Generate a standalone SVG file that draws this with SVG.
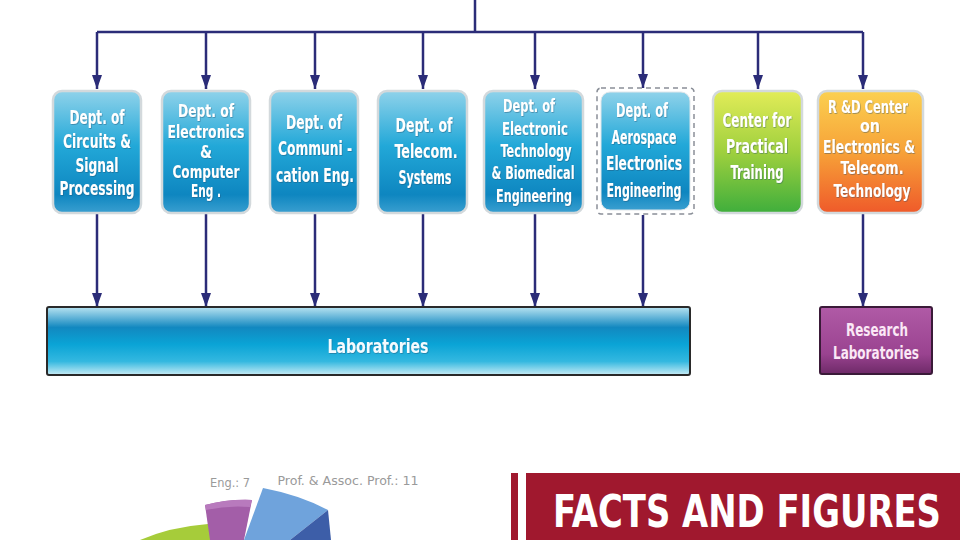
<svg xmlns="http://www.w3.org/2000/svg" width="960" height="540" viewBox="0 0 960 540">
<style>
.bt{font-family:"DejaVu Sans Condensed","Liberation Sans",sans-serif;font-weight:bold;font-size:19px;fill:#ffffff;text-anchor:middle}
.b5{font-size:18px}
.con{stroke:#2b2c78;stroke-width:2.5;fill:none}
.box{stroke:#d3d9dc;stroke-width:2.5}
.lbl{font-family:"DejaVu Sans Condensed","Liberation Sans",sans-serif;font-size:12px;fill:#9a9a9a;text-anchor:middle}
</style>
<defs>
<marker id="ah" viewBox="0 0 10 14" refX="5" refY="14" markerWidth="10" markerHeight="14" markerUnits="userSpaceOnUse" orient="0">
<path d="M0,0 L10,0 L5,14 Z" fill="#2b2c78"/>
</marker>
<linearGradient id="gBlue" x1="0" y1="0" x2="0" y2="1">
<stop offset="0" stop-color="#8fd2ea"/>
<stop offset="0.45" stop-color="#22a8d8"/>
<stop offset="0.85" stop-color="#0e86c0"/>
<stop offset="1" stop-color="#3a9fd0"/>
</linearGradient>
<linearGradient id="gGreen" x1="0" y1="0" x2="0" y2="1">
<stop offset="0" stop-color="#e2ec58"/>
<stop offset="0.5" stop-color="#9fd03e"/>
<stop offset="1" stop-color="#3fae3c"/>
</linearGradient>
<linearGradient id="gOrange" x1="0" y1="0" x2="0" y2="1">
<stop offset="0" stop-color="#fbd050"/>
<stop offset="0.5" stop-color="#f7a238"/>
<stop offset="1" stop-color="#ef5a2a"/>
</linearGradient>
<linearGradient id="gLab" x1="0" y1="0" x2="0" y2="1">
<stop offset="0" stop-color="#b8e3f1"/>
<stop offset="0.3" stop-color="#1288c0"/>
<stop offset="0.55" stop-color="#0aa4d6"/>
<stop offset="0.8" stop-color="#34b8e0"/>
<stop offset="1" stop-color="#c9ecf5"/>
</linearGradient>
<linearGradient id="gPurple" x1="0" y1="0" x2="0" y2="1">
<stop offset="0" stop-color="#b05aa6"/>
<stop offset="0.7" stop-color="#9a4390"/>
<stop offset="1" stop-color="#6e2a68"/>
</linearGradient>
<filter id="ts" x="-10%" y="-10%" width="120%" height="130%">
<feDropShadow dx="0.6" dy="0.8" stdDeviation="0.4" flood-color="#1a4a6a" flood-opacity="0.5"/>
</filter>
</defs>
<rect width="960" height="540" fill="#ffffff"/>

<g id="connectors">
<path class="con" d="M475,0 V32 M97,32 H863"/>
<path class="con" d="M97,32 V89" marker-end="url(#ah)"/>
<path class="con" d="M206,32 V89" marker-end="url(#ah)"/>
<path class="con" d="M315,32 V89" marker-end="url(#ah)"/>
<path class="con" d="M423,32 V89" marker-end="url(#ah)"/>
<path class="con" d="M535,32 V89" marker-end="url(#ah)"/>
<path class="con" d="M643,32 V88" marker-end="url(#ah)"/>
<path class="con" d="M758,32 V89" marker-end="url(#ah)"/>
<path class="con" d="M863,32 V89" marker-end="url(#ah)"/>
<path class="con" d="M97,214 V307" marker-end="url(#ah)"/>
<path class="con" d="M206,214 V307" marker-end="url(#ah)"/>
<path class="con" d="M315,214 V307" marker-end="url(#ah)"/>
<path class="con" d="M423,214 V307" marker-end="url(#ah)"/>
<path class="con" d="M535,214 V307" marker-end="url(#ah)"/>
<path class="con" d="M643,215 V307" marker-end="url(#ah)"/>
<path class="con" d="M863,214 V307" marker-end="url(#ah)"/>
</g>

<g id="dept-circuits">
<rect class="box" x="53" y="91" width="88" height="122" rx="9" fill="url(#gBlue)"/>
<g class="bt" filter="url(#ts)">
<text x="97" y="124" textLength="55" lengthAdjust="spacingAndGlyphs">Dept. of</text>
<text x="97" y="148" textLength="68" lengthAdjust="spacingAndGlyphs">Circuits &amp;</text>
<text x="97" y="172" textLength="43" lengthAdjust="spacingAndGlyphs">Signal</text>
<text x="97" y="195" textLength="75" lengthAdjust="spacingAndGlyphs">Processing</text>
</g>
</g>

<g id="dept-electronics">
<rect class="box" x="162" y="91" width="88" height="122" rx="9" fill="url(#gBlue)"/>
<g class="bt b5" filter="url(#ts)">
<text x="206" y="117" textLength="56" lengthAdjust="spacingAndGlyphs">Dept. of</text>
<text x="206" y="138" textLength="77" lengthAdjust="spacingAndGlyphs">Electronics</text>
<text x="206" y="158" textLength="12" lengthAdjust="spacingAndGlyphs">&amp;</text>
<text x="206" y="178" textLength="67" lengthAdjust="spacingAndGlyphs">Computer</text>
<text x="206" y="197" textLength="30" lengthAdjust="spacingAndGlyphs">Eng .</text>
</g>
</g>

<g id="dept-communication">
<rect class="box" x="270" y="91" width="88" height="122" rx="9" fill="url(#gBlue)"/>
<g class="bt" filter="url(#ts)">
<text x="314" y="129" textLength="56" lengthAdjust="spacingAndGlyphs">Dept. of</text>
<text x="315" y="155" textLength="74" lengthAdjust="spacingAndGlyphs">Communi -</text>
<text x="315" y="182" textLength="78" lengthAdjust="spacingAndGlyphs">cation Eng.</text>
</g>
</g>

<g id="dept-telecom">
<rect class="box" x="378" y="91" width="89" height="122" rx="9" fill="url(#gBlue)"/>
<g class="bt" filter="url(#ts)">
<text x="424" y="132" textLength="57" lengthAdjust="spacingAndGlyphs">Dept. of</text>
<text x="426" y="158" textLength="63" lengthAdjust="spacingAndGlyphs">Telecom.</text>
<text x="425" y="184" textLength="53" lengthAdjust="spacingAndGlyphs">Systems</text>
</g>
</g>

<g id="dept-biomedical">
<rect class="box" x="484" y="91" width="99" height="122" rx="9" fill="url(#gBlue)"/>
<g class="bt b5" filter="url(#ts)">
<text x="529" y="112" textLength="52" lengthAdjust="spacingAndGlyphs">Dept. of</text>
<text x="535" y="135" textLength="66" lengthAdjust="spacingAndGlyphs">Electronic</text>
<text x="536" y="157" textLength="71" lengthAdjust="spacingAndGlyphs">Technology</text>
<text x="533" y="179" textLength="83" lengthAdjust="spacingAndGlyphs">&amp; Biomedical</text>
<text x="534" y="202" textLength="76" lengthAdjust="spacingAndGlyphs">Engineering</text>
</g>
</g>

<g id="dept-aerospace">
<rect x="597" y="88" width="97" height="126" rx="4" fill="none" stroke="#8a8f98" stroke-width="1.5" stroke-dasharray="5,4"/>
<rect x="601" y="92" width="89" height="118" rx="9" fill="url(#gBlue)" stroke="#dfe6ea" stroke-width="1"/>
<g class="bt" filter="url(#ts)">
<text x="642" y="117" textLength="52" lengthAdjust="spacingAndGlyphs">Dept. of</text>
<text x="644" y="144" textLength="65" lengthAdjust="spacingAndGlyphs">Aerospace</text>
<text x="644" y="170" textLength="76" lengthAdjust="spacingAndGlyphs">Electronics</text>
<text x="644" y="197" textLength="75" lengthAdjust="spacingAndGlyphs">Engineering</text>
</g>
</g>

<g id="center-training">
<rect class="box" x="713" y="91" width="89" height="122" rx="9" fill="url(#gGreen)"/>
<g class="bt" filter="url(#ts)">
<text x="757" y="127" textLength="69" lengthAdjust="spacingAndGlyphs">Center for</text>
<text x="757" y="153" textLength="62" lengthAdjust="spacingAndGlyphs">Practical</text>
<text x="757" y="179" textLength="53" lengthAdjust="spacingAndGlyphs">Training</text>
</g>
</g>

<g id="rd-center">
<rect class="box" x="818" y="91" width="105" height="122" rx="9" fill="url(#gOrange)"/>
<g class="bt b5" filter="url(#ts)">
<text x="868" y="113" textLength="80" lengthAdjust="spacingAndGlyphs">R &amp;D Center</text>
<text x="870" y="132" textLength="20" lengthAdjust="spacingAndGlyphs">on</text>
<text x="869" y="153" textLength="92" lengthAdjust="spacingAndGlyphs">Electronics &amp;</text>
<text x="872" y="174" textLength="63" lengthAdjust="spacingAndGlyphs">Telecom.</text>
<text x="872" y="197" textLength="77" lengthAdjust="spacingAndGlyphs">Technology</text>
</g>
</g>

<g id="laboratories">
<rect x="47" y="307" width="643" height="68" rx="2" fill="url(#gLab)" stroke="#2a2a2a" stroke-width="2"/>
<text class="bt" x="378" y="353" style="font-size:20px;fill:#f4fbff" textLength="101" lengthAdjust="spacingAndGlyphs" filter="url(#ts)">Laboratories</text>
</g>

<g id="research-labs">
<rect x="820" y="307" width="112" height="67" rx="2" fill="url(#gPurple)" stroke="#3a1a38" stroke-width="2"/>
<g class="bt" style="font-size:18px;fill:#fbe8f6">
<text x="877" y="336" textLength="62" lengthAdjust="spacingAndGlyphs">Research</text>
<text x="876" y="359" textLength="86" lengthAdjust="spacingAndGlyphs">Laboratories</text>
</g>
</g>

<g id="pie-chart">
<path d="M140,540 Q170,527 208,524 L212,540 Z" fill="#a6cc3a"/>
<path d="M205,505 Q228,499 252,500 L244,540 L210,540 Z" fill="#a35ea8"/>
<path d="M205,505 Q228,499 252,500 L250,507 Q228,505 206,510 Z" fill="#b87abd"/>
<path d="M263,488 Q300,495 328,510 L290,540 L244,540 Z" fill="#6fa3dc"/>
<path d="M328,510 L331,540 L290,540 Z" fill="#3d5ea8"/>
<text class="lbl" x="230" y="487" textLength="40" lengthAdjust="spacingAndGlyphs">Eng.: 7</text>
<text class="lbl" x="348" y="485" textLength="141" lengthAdjust="spacingAndGlyphs">Prof. &amp; Assoc. Prof.: 11</text>
</g>

<g id="facts-banner">
<rect x="511" y="473" width="7" height="67" fill="#a0182e"/>
<rect x="526" y="473" width="434" height="67" fill="#a0182e"/>
<text transform="translate(553,527) scale(1,1.3)" x="0" y="0" style="font-family:'DejaVu Sans Condensed',sans-serif;font-weight:bold;font-size:34px;fill:#ffffff" textLength="388" lengthAdjust="spacingAndGlyphs">FACTS AND FIGURES</text>
</g>
</svg>
